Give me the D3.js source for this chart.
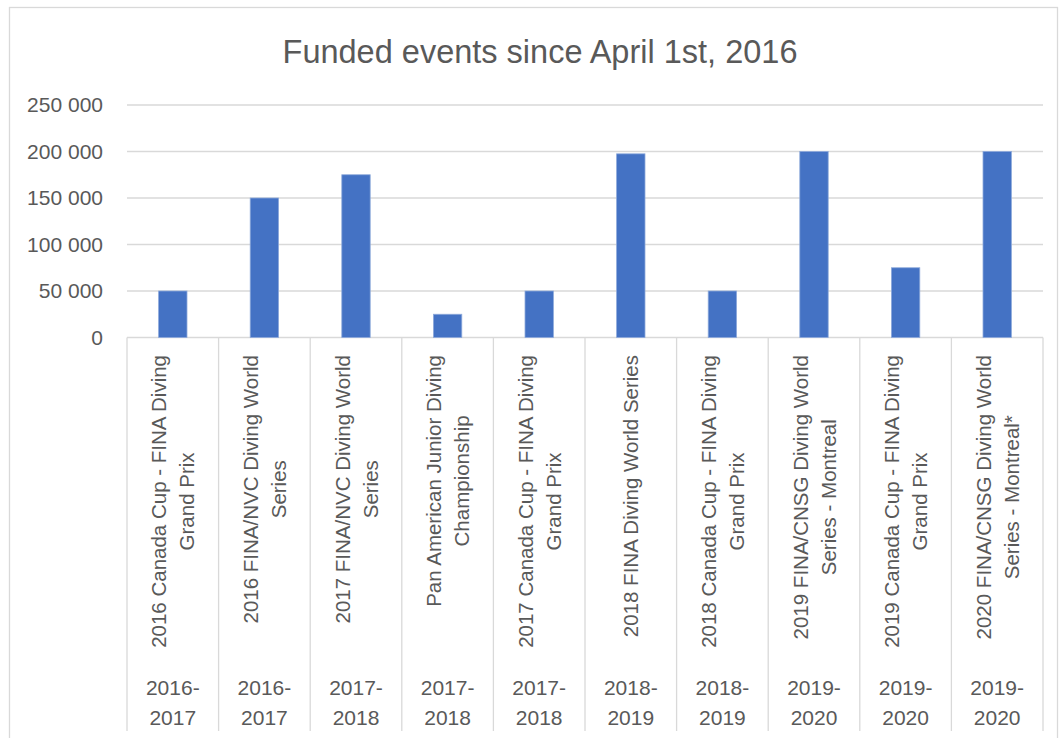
<!DOCTYPE html>
<html>
<head>
<meta charset="utf-8">
<script src="https://cdn.jsdelivr.net/npm/d3@7"></script>
<style>
    body { margin: 0; background: #fff; }
    text { font-family: "Liberation Sans", Arial, sans-serif; fill: #595959; }
</style>
</head>
<body>
<div id="chart"></div>
<script>
// Event names (already split in the lines shown on the axis)
const events = [
    ["2016 Canada Cup - FINA Diving", "Grand Prix"],
    ["2016 FINA/NVC Diving World", "Series"],
    ["2017 FINA/NVC Diving World", "Series"],
    ["Pan American Junior Diving", "Championship"],
    ["2017 Canada Cup - FINA Diving", "Grand Prix"],
    ["2018 FINA Diving World Series"],
    ["2018 Canada Cup - FINA Diving", "Grand Prix"],
    ["2019 FINA/CNSG Diving World", "Series - Montreal"],
    ["2019 Canada Cup - FINA Diving", "Grand Prix"],
    ["2020 FINA/CNSG Diving World", "Series - Montreal*"]
];
const seasons = ["2016-2017", "2016-2017", "2017-2018", "2017-2018", "2017-2018",
                 "2018-2019", "2018-2019", "2019-2020", "2019-2020", "2019-2020"];
const funding = [50000, 150000, 175000, 25000, 50000, 197500, 50000, 200000, 75000, 200000];
const yTicks = [0, 50000, 100000, 150000, 200000, 250000];

const width = 1063, height = 738;
const plotLeft = 127, plotRight = 1043, plotTop = 105, plotBottom = 337.5;

const svg = d3.select("#chart")
    .append("svg")
    .attr("width", width)
    .attr("height", height);

// chart frame
svg.append("rect")
    .attr("x", 9.5).attr("y", 7.5)
    .attr("width", 1048).attr("height", 740)
    .attr("fill", "#fff")
    .attr("stroke", "#d9d9d9")
    .attr("stroke-width", 1.3);

svg.append("text")
    .attr("x", 540).attr("y", 63)
    .attr("text-anchor", "middle")
    .style("font-size", "32.5px")
    .text("Funded events since April 1st, 2016");

const x = d3.scaleBand()
    .domain(d3.range(events.length))
    .range([plotLeft, plotRight])
    .padding(0);

const y = d3.scaleLinear()
    .domain([0, 250000])
    .range([plotBottom, plotTop]);

const fmt = v => d3.format(",")(v).replace(/,/g, " ");

// gridlines
svg.append("g")
    .selectAll("line")
    .data(yTicks)
    .enter()
    .append("line")
    .attr("x1", plotLeft).attr("x2", plotRight)
    .attr("y1", d => y(d)).attr("y2", d => y(d))
    .attr("stroke", "#d9d9d9")
    .attr("stroke-width", 1.3);

// y labels
svg.append("g")
    .selectAll("text")
    .data(yTicks)
    .enter()
    .append("text")
    .attr("x", 103)
    .attr("y", d => y(d))
    .attr("dy", "0.35em")
    .attr("text-anchor", "end")
    .style("font-size", "21px")
    .text(fmt);

// bars
const barW = x.bandwidth() * 0.31;
svg.append("g")
    .selectAll("rect")
    .data(funding)
    .enter()
    .append("rect")
    .attr("x", (d, i) => x(i) + (x.bandwidth() - barW) / 2)
    .attr("y", d => y(d))
    .attr("width", barW)
    .attr("height", d => y(0) - y(d))
    .attr("fill", "#4472c4")
    .attr("stroke", "#8eaadb")
    .attr("stroke-width", 0.8);

// category separators
svg.append("g")
    .selectAll("line")
    .data(d3.range(events.length + 1))
    .enter()
    .append("line")
    .attr("x1", i => plotLeft + i * x.bandwidth())
    .attr("x2", i => plotLeft + i * x.bandwidth())
    .attr("y1", plotBottom)
    .attr("y2", 731)
    .attr("stroke", "#d9d9d9")
    .attr("stroke-width", 1.3);

// rotated event labels
const lineGap = 28;
const labels = svg.append("g")
    .selectAll("g")
    .data(events)
    .enter()
    .append("g");

labels.each(function(lines, i) {
    const g = d3.select(this);
    const cx = x(i) + x.bandwidth() / 2;
    const ts = g.selectAll("text")
        .data(lines)
        .enter()
        .append("text")
        .attr("text-anchor", "middle")
        .attr("dominant-baseline", "central")
        .style("font-size", "20.5px")
        .text(d => d);
    let maxLen = 0;
    ts.each(function() { maxLen = Math.max(maxLen, this.getComputedTextLength()); });
    const cy = 355 + maxLen / 2;
    ts.attr("transform", (d, j) => {
        const lx = cx + (j - (lines.length - 1) / 2) * lineGap;
        return `translate(${lx},${cy}) rotate(-90)`;
    });
});

// season labels
svg.append("g")
    .selectAll("g")
    .data(seasons)
    .enter()
    .append("g")
    .each(function(s, i) {
        const parts = [s.split("-")[0] + "-", s.split("-")[1]];
        d3.select(this).selectAll("text")
            .data(parts)
            .enter()
            .append("text")
            .attr("x", x(i) + x.bandwidth() / 2)
            .attr("y", (d, j) => 687 + j * 30)
            .attr("dominant-baseline", "central")
            .attr("text-anchor", "middle")
            .style("font-size", "21px")
            .text(d => d);
    });
</script>
</body>
</html>
